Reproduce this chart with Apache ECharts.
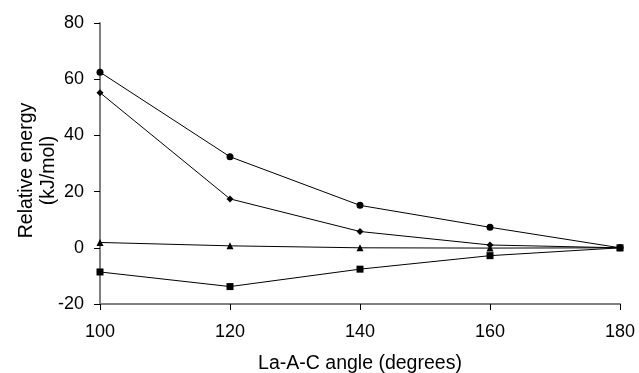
<!DOCTYPE html>
<html>
<head>
<meta charset="utf-8">
<script src="https://cdn.jsdelivr.net/npm/echarts@6/dist/echarts.min.js"></script>
<style>
  html, body { margin: 0; padding: 0; background: #fff; }
  #main { width: 639px; height: 373px; }
</style>
</head>
<body>
<div id="main"></div>
<script>
// angles (degrees)
var angles = [100, 120, 140, 160, 180];
// relative energies (kJ/mol)
var circleSeries = [62.5, 32.4, 15.1, 7.3, 0];
var diamondSeries = [55.2, 17.4, 5.8, 1.0, 0];
var triangleSeries = [1.9, 0.7, 0.0, -0.1, 0];
var squareSeries = [-8.6, -13.8, -7.6, -2.8, 0];

function pairs(vals) {
    return angles.map(function (a, i) { return [a, vals[i]]; });
}

var chart = echarts.init(document.getElementById('main'));

var tickFont = {fontFamily: 'Liberation Sans, Arial, sans-serif', fontSize: 18, color: '#000'};
var nameFont = {fontFamily: 'Liberation Sans, Arial, sans-serif', fontSize: 19.5, color: '#000'};

function line(name, symbol, size, vals) {
    return {
        name: name,
        type: 'line',
        data: pairs(vals),
        symbol: symbol,
        symbolSize: size,
        showAllSymbol: true,
        lineStyle: {color: '#000', width: 1},
        itemStyle: {color: '#000'},
        animation: false
    };
}

chart.setOption({
    animation: false,
    grid: {left: 100, right: 19, top: 23, bottom: 69, outerBoundsMode: 'none', containLabel: false},
    xAxis: {
        type: 'value',
        min: 100,
        max: 180,
        interval: 20,
        name: 'La-A-C angle (degrees)',
        nameLocation: 'middle',
        nameGap: 50,
        nameMoveOverlap: false,
        nameTextStyle: nameFont,
        axisLine: {onZero: false, lineStyle: {color: '#808080', width: 2}},
        axisTick: {length: 6, lineStyle: {color: '#000', width: 1}},
        axisLabel: Object.assign({margin: 19}, tickFont),
        splitLine: {show: false}
    },
    yAxis: {
        type: 'value',
        min: -20,
        max: 80,
        interval: 20,
        name: 'Relative energy\n(kJ/mol)',
        nameLocation: 'middle',
        nameGap: 40,
        nameMoveOverlap: false,
        nameRotate: 90,
        nameTextStyle: Object.assign({lineHeight: 22, padding: [0, 14, 0, 0]}, nameFont),
        axisLine: {show: true, onZero: false, lineStyle: {color: '#808080', width: 2}},
        axisTick: {show: true, length: 6, lineStyle: {color: '#000', width: 1}},
        axisLabel: Object.assign({margin: 16}, tickFont),
        splitLine: {show: false}
    },
    series: [
        line('circle', 'circle', 7, circleSeries),
        line('diamond', 'diamond', 7, diamondSeries),
        line('triangle', 'triangle', 7, triangleSeries),
        line('square', 'rect', 7, squareSeries)
    ]
});
</script>
</body>
</html>
